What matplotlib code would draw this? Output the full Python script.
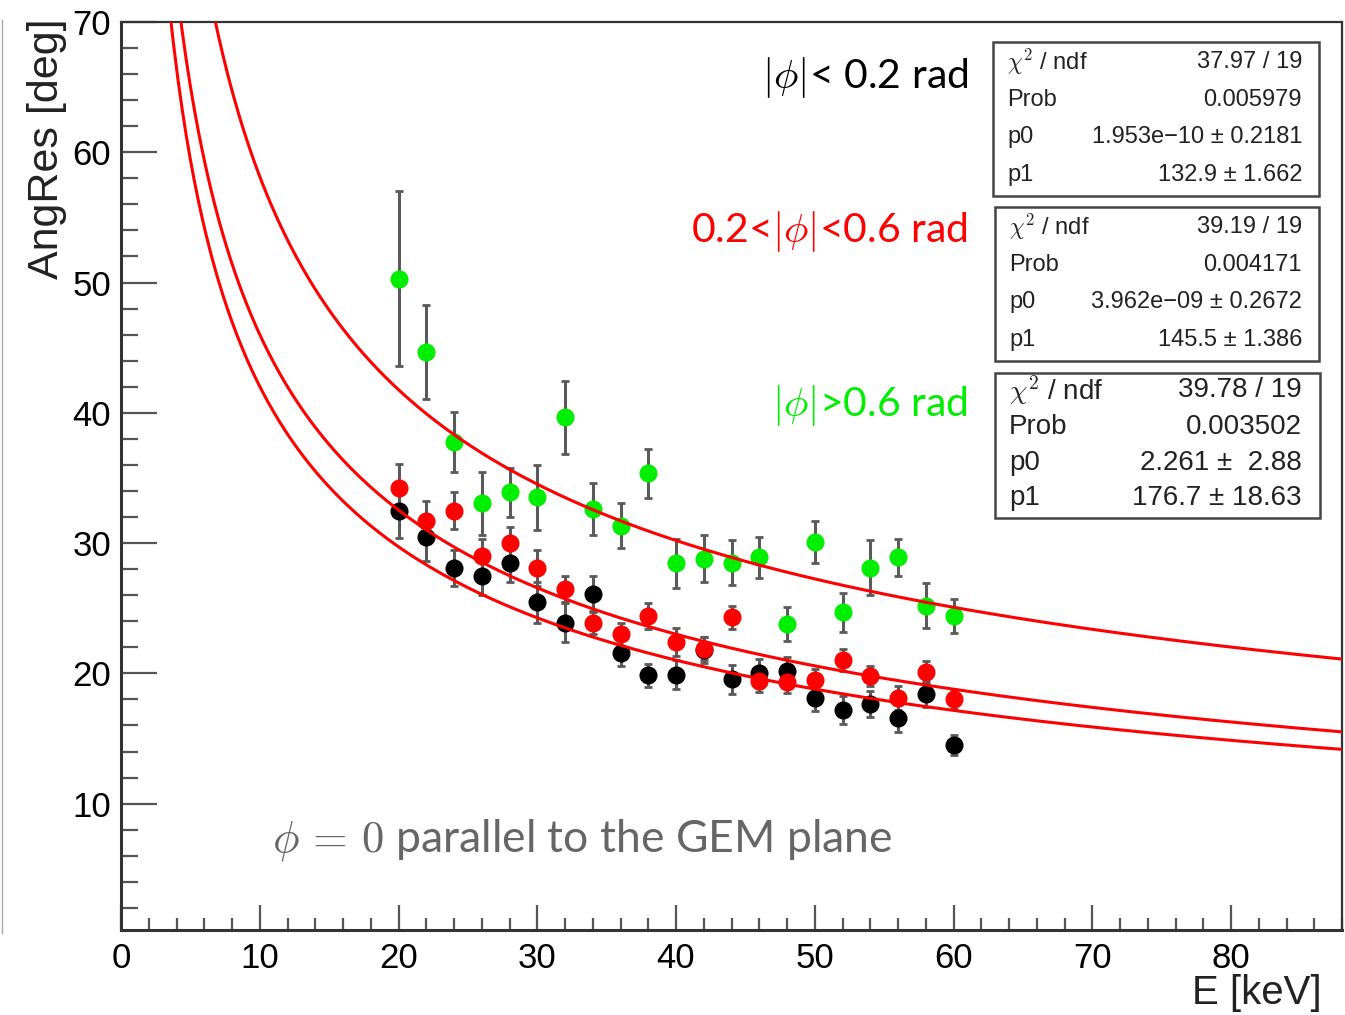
import matplotlib.pyplot as plt
import numpy as np
from matplotlib.patches import Rectangle
from matplotlib.lines import Line2D
from matplotlib.ticker import MultipleLocator

plt.rcParams['mathtext.fontset'] = 'cm'
plt.rcParams['font.family'] = ['Liberation Sans', 'DejaVu Sans']

W, H = 1345, 1015

# data
energy = [20, 22, 24, 26, 28, 30, 32, 34, 36, 38, 40, 42, 44, 46, 48, 50, 52, 54, 56, 58, 60]

res_small = [32.5, 30.45, 28.1, 27.5, 28.45, 25.45, 23.9, 26.1, 21.55, 19.85, 19.9,
             21.8, 19.55, 20.0, 20.15, 18.1, 17.2, 17.65, 16.55, 18.45, 14.5]
err_small = [2.1, 1.8, 1.4, 1.5, 1.4, 1.6, 1.5, 1.4, 1.0, 0.9, 1.1,
             1.0, 1.1, 1.1, 1.1, 1.0, 1.05, 1.0, 1.05, 1.0, 0.8]

res_mid = [34.2, 31.7, 32.5, 29.0, 30.0, 28.1, 26.5, 23.9, 23.0, 24.4, 22.4,
           21.9, 24.3, 19.4, 19.3, 19.5, 21.0, 19.8, 18.1, 20.1, 18.0]
err_mid = [1.9, 1.5, 1.4, 1.3, 1.2, 1.4, 1.0, 0.9, 0.9, 1.0, 1.1,
           0.9, 0.9, 0.8, 0.8, 0.85, 0.85, 0.8, 0.9, 0.85, 0.7]

res_large = [50.3, 44.65, 37.75, 33.05, 33.9, 33.5, 39.65, 32.6, 31.35, 35.35, 28.45,
             28.8, 28.5, 28.9, 23.8, 30.1, 24.7, 28.1, 28.9, 25.2, 24.4]
err_large = [6.7, 3.6, 2.3, 2.4, 1.9, 2.5, 2.8, 2.0, 1.7, 1.9, 1.9,
             1.8, 1.7, 1.6, 1.3, 1.6, 1.5, 2.1, 1.4, 1.7, 1.3]

# fit p0 + p1/sqrt(E), parameters from the stat boxes
fit_p0 = [1.953e-10, 3.962e-09, 2.261]
fit_p1 = [132.9, 145.5, 176.7]

stat_chi2 = ["37.97 / 19", "39.19 / 19", "39.78 / 19"]
stat_prob = ["0.005979", "0.004171", "0.003502"]
stat_p0 = ["1.953e\u221210 \u00b1 0.2181", "3.962e\u221209 \u00b1 0.2672", "2.261 \u00b1  2.88"]
stat_p1 = ["132.9 \u00b1 1.662", "145.5 \u00b1 1.386", "176.7 \u00b1 18.63"]

labels = [r"$|\phi|$< 0.2 rad", r"0.2<$|\phi|$<0.6 rad", r"$|\phi|$>0.6 rad"]
colors = ["black", "#ff0000", "#00ee00"]

fig = plt.figure(figsize=(W / 100, H / 100), dpi=100)
ax = fig.add_axes([121 / W, 1 - 930 / H, (1342 - 121) / W, (930 - 22) / H])

for res, err, c in zip([res_small, res_mid, res_large],
                       [err_small, err_mid, err_large], colors):
    ax.errorbar(energy, res, yerr=err, fmt='o', color=c, ms=12, mec=c,
                ecolor='#5a5a5a', elinewidth=2.2, capsize=3, capthick=2, zorder=3)

xx = np.linspace(0.3, 88, 600)
for p0, p1 in zip(fit_p0, fit_p1):
    ax.plot(xx, p0 + p1 / np.sqrt(xx), color='#ff0000', lw=2.2, zorder=4)

ax.set_xlim(0, 88)
ax.set_ylim(0.3, 70)
ax.xaxis.set_major_locator(MultipleLocator(10))
ax.xaxis.set_minor_locator(MultipleLocator(2))
ax.yaxis.set_major_locator(MultipleLocator(10))
ax.yaxis.set_minor_locator(MultipleLocator(2))
ax.tick_params(axis='both', which='both', direction='in', top=False, right=False,
               color='#555555', width=1.6, labelsize=25)
ax.tick_params(axis='x', which='major', length=18, pad=9)
ax.tick_params(axis='x', which='minor', length=9)
ax.tick_params(axis='y', which='major', length=26, pad=7)
ax.tick_params(axis='y', which='minor', length=12)
for s in ax.spines.values():
    s.set_color('#333333')
    s.set_linewidth(1.6)
ax.spines['left'].set_linewidth(2.2)
ax.spines['bottom'].set_linewidth(2.2)

fig.text(1322 / W, 1 - 993 / H, "E [keV]", fontsize=29, ha='right', va='center', color='#222222')
fig.text(47 / W, 1 - 18 / H, "AngRes [deg]", fontsize=31, rotation=90, ha='center', va='top',
         color='#222222')

# category labels
label_y = [78, 232, 405]
for txt, c, y in zip(labels, colors, label_y):
    fig.text(968 / W, 1 - y / H, txt, fontsize=29.5, ha='right', va='center', color=c,
             family=['Lato', 'DejaVu Sans'])

fig.text(272 / W, 1 - 840 / H, r"$\phi\,=\,0$ parallel to the GEM plane", fontsize=32,
         ha='left', va='center', color='#666666', family=['Lato', 'DejaVu Sans'])

# stat boxes
boxes = [(993, 42, 1319, 196), (995, 207, 1319, 361), (995, 373, 1320, 518)]
row_y = [[62, 100, 137, 175], [227, 265, 302, 340], [390, 427, 463, 498]]
box_fs = [17, 17, 20]
for i, (l, t, r, b) in enumerate(boxes):
    fig.patches.append(Rectangle((l / W, 1 - b / H), (r - l) / W, (b - t) / H,
                                 transform=fig.transFigure, fill=False,
                                 ec='#444444', lw=1.8))
    names = [r"$\chi^{2}$ / ndf", "Prob", "p0", "p1"]
    vals = [stat_chi2[i], stat_prob[i], stat_p0[i], stat_p1[i]]
    for n, v, y in zip(names, vals, row_y[i]):
        fig.text((l + 14) / W, 1 - y / H, n, fontsize=box_fs[i], ha='left', va='center',
                 color='#222222')
        fig.text(1302 / W, 1 - y / H, v, fontsize=box_fs[i], ha='right', va='center',
                 color='#222222')

fig.lines.append(Line2D([2 / W, 2 / W], [1 - 933 / H, 1 - 20 / H], transform=fig.transFigure,
                        color='#aaaaaa', lw=1))

fig.savefig("out.png", dpi=100)
